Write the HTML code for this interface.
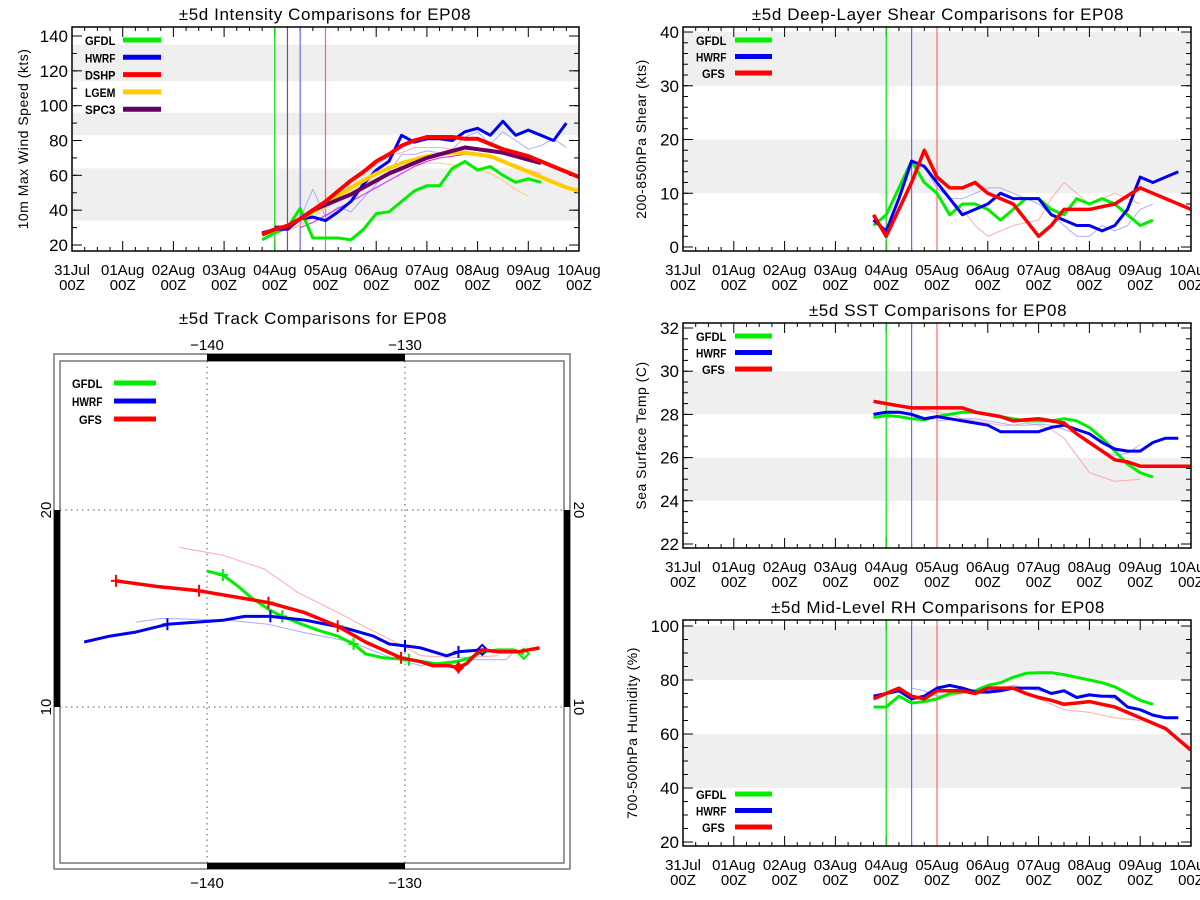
<!DOCTYPE html>
<html><head><meta charset="utf-8"><style>
html,body{margin:0;padding:0;background:#fff;}
svg{display:block;font-family:"Liberation Sans",sans-serif;}
</style></head><body>
<svg id="s" width="1200" height="900" viewBox="0 0 1200 900" xmlns="http://www.w3.org/2000/svg"></svg>
<script>
// ---------- DATA ----------
const dayLabels = ["31Jul","01Aug","02Aug","03Aug","04Aug","05Aug","06Aug","07Aug","08Aug","09Aug","10Aug"];
const intGFDL = [23,27,30,41,24,24,24,23,29,38,39,45,51,54,54,64,68,63,65,60,56,58,56];
const intHWRF = [27,29,29,35,36,34,39,45,55,63,68,83,79,81,81,80,85,87,83,91,83,86,83,80,90];
const intDSHP = [26,29,31,35,40,45,51,57,62,68,72,77,80,82,82,82,81,81,78,75,73,71,68,65,62,59];
const intLGEM = [26,29,31,35,39,43,48,53,57,61,64,67,69,71,72,73,73,72,71,68,65,62,59,56,53,51];
const intSPC3 = [30,30,35,40,43,46,49,53,57,61,64,67,70,72,74,76,75,74,73,71,69,67];
const intHWRFold = [30,35,52,36,42,39,47,55,62,72,72,74,73,75,82,85,78,85,80,75,77,81,76];
const intDSHPold = [28,32,38,44,50,56,61,66,71,73,76,76,76,75,74,72,70,68,66,63,61];
const intLGEMold = [28,31,36,41,46,51,55,58,61,64,66,67,67,66,66,64,61,57,52,48];
const intSPC3old = [30,33,37,41,45,49,53,57,61,65,68,70,71,72,72,70,68,66,62];
const shrGFDL = [4,6,11,16,12,10,6,8,8,7,5,7,9,9,7,6,9,8,9,8,6,4,5];
const shrHWRF = [5,3,9,16,15,12,9,6,7,8,10,9,9,9,6,5,4,4,3,4,7,13,12,13,14];
const shrGFS  = [6,2,7,12,18,13,11,11,12,10,9,8,5,2,4,7,7,7,7.5,8,9.5,11,10,9,8,7];
const shrGFSold = [15,12,9,7,4,2,3,4,4.5,5,9,12,10,8,9,10,9,8];
const shrHWRFold = [15,11,9,9,10,11,11,10,9,8,6,4,2,2,4,3,4,7,8];
const sstGFDL = [27.85,27.95,27.9,27.8,27.75,27.9,28.0,28.1,28.1,28.0,27.9,27.8,27.7,27.7,27.7,27.8,27.7,27.4,26.9,26.3,25.7,25.3,25.1];
const sstHWRF = [28.0,28.1,28.1,28.0,27.8,27.9,27.8,27.7,27.6,27.5,27.2,27.2,27.2,27.2,27.4,27.5,27.3,27.1,26.7,26.4,26.3,26.3,26.7,26.9,26.9];
const sstGFS  = [28.6,28.5,28.4,28.3,28.3,28.3,28.3,28.3,28.1,28.0,27.9,27.7,27.75,27.8,27.7,27.6,27.1,26.7,26.3,25.9,25.8,25.6,25.6,25.6,25.6,25.6];
const sstGFSold = [28.3,28.2,28.1,28.0,27.8,27.7,27.6,27.5,27.5,27.6,27.5,27.3,26.9,26.1,25.3,25.1,24.9,24.95,25.0];
const sstHWRFold = [27.7,27.75,27.8,27.8,27.7,27.6,27.5,27.5,27.55,27.5,27.3,27.1,26.7,26.3,26.1,26.2,26.6];
const rhGFDL = [70,70,74,71.5,72,73,75,75.5,76,78,79,81,82.5,82.7,82.7,82,81,80,79,77.5,75,72.5,71];
const rhHWRF = [74,75,76,73,74,77,78,77,75.5,75.5,76,77,77,77,75,76,73.5,74.5,74,74,70,69,67,66,66];
const rhGFS  = [73,75,77,74,73,76,76,76,75,77,77,77,75,73.5,72.5,71,71.5,72,71,70,68,66,64,62,58,54];
const rhGFSold = [76,74,74,75,75.5,76,76,76.5,75,73,71,69,68.5,68,67,66,65.5,65];
const rhHWRFold = [77,76,74,75,76,76.5,76,77,78,77,76,75,76.5,74,75,74,73,70.5];
const trkGFSlon = [-123.2,-124.3,-125.3,-126.1,-126.4,-126.7,-126.9,-127.3,-127.8,-128.6,-129.2,-130.2,-131.1,-132.0,-133.4,-135.1,-136.9,-140.4,-142.4,-144.6];
const trkGFSlat = [13.0,12.8,12.8,12.9,12.7,12.4,12.2,12.0,12.1,12.1,12.3,12.5,12.9,13.3,14.1,14.8,15.3,15.9,16.1,16.4];
const trkGFDLlon = [-124.0,-124.5,-125.3,-126.1,-126.7,-127.4,-128.4,-129.8,-131.1,-132.0,-132.6,-133.4,-134.4,-135.2,-136.2,-136.8,-137.7,-138.4,-139.2,-140.0];
const trkGFDLlat = [12.7,12.9,12.9,12.8,12.5,12.3,12.2,12.4,12.5,12.7,13.2,13.6,13.9,14.2,14.6,14.9,15.5,16.1,16.7,16.9];
const trkHWRFlon = [-126.1,-127.3,-127.9,-129.2,-130.0,-130.8,-131.6,-133.0,-135.0,-136.8,-138.1,-139.2,-142.0,-143.6,-144.9,-146.2];
const trkHWRFlat = [12.9,12.8,12.6,13.0,13.1,13.2,13.6,14.0,14.4,14.6,14.6,14.4,14.2,13.8,13.6,13.3];
const trkGFSoldLon = [-125.3,-127.2,-129.2,-130.1,-131.9,-133.4,-135.4,-137.1,-139.2,-141.4];
const trkGFSoldLat = [12.6,12.5,12.6,13.1,14.0,14.8,15.8,17.0,17.7,18.1];
const trkHWRFoldLon = [-124.5,-124.9,-127.2,-129.2,-130.7,-132.7,-135.2,-136.9,-138.9,-142.3,-143.6];
const trkHWRFoldLat = [12.8,12.4,12.4,12.1,12.5,13.3,13.8,14.2,14.4,14.5,14.3];

// ---------- HELPERS ----------
const S = document.getElementById('s');
const NS = "http://www.w3.org/2000/svg";
function mk(tag, attrs, parent){
  const e = document.createElementNS(NS, tag);
  for (const k in attrs) e.setAttribute(k, attrs[k]);
  (parent||S).appendChild(e);
  return e;
}
function txt(str, attrs, parent){
  const e = mk('text', attrs, parent);
  e.textContent = str;
  return e;
}

function panel(cfg){
  const g = mk('g', {});
  
  
  const X = d => cfg.x0 + (cfg.x1 - cfg.x0) * d / 10;
  const Y = v => cfg.ya + (v - cfg.va) * (cfg.yb - cfg.ya) / (cfg.vb - cfg.va);
  cfg.bands.forEach(b => {
    const r = mk('rect', {x:cfg.x0, y:Y(b[1]), width:cfg.x1-cfg.x0, height:Y(b[0])-Y(b[1]), fill:'#efefef'}, g);
    
    
  });
  const t = txt(cfg.title, {x:cfg.tx, y:cfg.ty, 'text-anchor':'middle', 'font-size':17, fill:'#000', 'letter-spacing':'0.6'}, g);
  
  
  const yc = (cfg.y0 + cfg.y1)/2;
  const yt = txt(cfg.ytitle, {x:cfg.ytx, y:yc, 'text-anchor':'middle', 'font-size':14, fill:'#000', transform:`rotate(-90 ${cfg.ytx} ${yc})`, 'letter-spacing':'0.5'}, g);
  
  
  cfg.yticks.forEach(v => {
    const y = Y(v);
    mk('line', {x1:cfg.x0, x2:cfg.x0+10, y1:y, y2:y, stroke:'#000'}, g);
    mk('line', {x1:cfg.x1, x2:cfg.x1-10, y1:y, y2:y, stroke:'#000'}, g);
    const l = txt(String(v), {x:cfg.x0-4, y:y+6, 'text-anchor':'end', 'font-size':17, fill:'#000'}, g);
    
    
  });
  for (let v = cfg.yticks[0]; v <= cfg.yticks[cfg.yticks.length-1]; v += cfg.yminor){
    const y = Y(v);
    mk('line', {x1:cfg.x0, x2:cfg.x0+5, y1:y, y2:y, stroke:'#000'}, g);
    mk('line', {x1:cfg.x1, x2:cfg.x1-5, y1:y, y2:y, stroke:'#000'}, g);
  }
  for (let q = 0; q <= 40; q++){
    const x = X(q/4);
    const len = q % 4 === 0 ? 10 : 4;
    mk('line', {x1:x, x2:x, y1:cfg.y1, y2:cfg.y1-len, stroke:'#000'}, g);
    mk('line', {x1:x, x2:x, y1:cfg.y0, y2:cfg.y0+len, stroke:'#000'}, g);
  }
  dayLabels.forEach((lab, i) => {
    const x = X(i);
    const a = txt(lab, {x:x, y:cfg.y1+24, 'text-anchor':'middle', 'font-size':15, fill:'#000'}, g);
    
    
    const b = txt('00Z', {x:x, y:cfg.y1+39, 'text-anchor':'middle', 'font-size':15, fill:'#000'}, g);
    
    
  });
  cfg.vlines.forEach(v => {
    const l = mk('line', {x1:X(v[0]), x2:X(v[0]), y1:cfg.y0, y2:cfg.y1, stroke:v[1], 'stroke-width':1.2}, g);
    
    
  });
  const clip = 'clip' + cfg.name;
  const cp = mk('clipPath', {id:clip}, g);
  mk('rect', {x:cfg.x0, y:cfg.y0, width:cfg.x1-cfg.x0, height:cfg.y1-cfg.y0}, cp);
  cfg.series.forEach(s => {
    const pts = s.data.map((v, i) => X(s.start + i*0.25).toFixed(1) + ',' + Y(v).toFixed(1)).join(' ');
    const p = mk('polyline', {points:pts, fill:'none', stroke:s.color, 'stroke-width':s.w, opacity:s.op||1, 'stroke-linejoin':'round', 'clip-path':`url(#${clip})`}, g);
    
    
  });
  const f = mk('rect', {x:cfg.x0, y:cfg.y0, width:cfg.x1-cfg.x0, height:cfg.y1-cfg.y0, fill:'none', stroke:'#000', 'stroke-width':1.5}, g);
  
  
  cfg.legend.forEach((e, i) => {
    const y = cfg.ly + i*cfg.lstep;
    const w = e[0].length * 7.6;
    const lx = e[0].length === 3 ? cfg.lx + 6 : cfg.lx;
    const lt = txt(e[0], {x:lx, y:y+5, 'font-size':12, 'font-weight':'bold', fill:'#000', textLength:w, lengthAdjust:'spacingAndGlyphs'}, g);
    
    
    const ll = mk('line', {x1:cfg.lx1, x2:cfg.lx2, y1:y, y2:y, stroke:e[1], 'stroke-width':5}, g);
    
    
  });
}

const G='#00ee00', B='#0000ee', R='#ff0000', O='#ffcc00', P='#660066';

panel({name:'intensity-chart', x0:72, x1:579, y0:27, y1:251, ya:36, va:140, yb:245, vb:20,
  bands:[[34,64],[83,96],[114,135]], title:'±5d Intensity Comparisons for EP08', tx:325, ty:20,
  ytitle:'10m Max Wind Speed (kts)', ytx:28, yticks:[20,40,60,80,100,120,140], yminor:10,
  vlines:[[4,'#00dd00'],[4.25,'#884488'],[4.5,'#6666ff'],[5,'#ff6666']],
  series:[
    {name:'hwrf-previous-line', data:intHWRFold, start:4.25, color:'#9999ff', w:1, op:0.8},
    {name:'dshp-previous-line', data:intDSHPold, start:4.25, color:'#ff9999', w:1, op:0.8},
    {name:'lgem-previous-line', data:intLGEMold, start:4.25, color:'#ffcc66', w:1, op:0.9},
    {name:'spc3-previous-line', data:intSPC3old, start:4.5, color:'#ee00ee', w:1, op:0.9},
    {name:'gfdl-line', data:intGFDL, start:3.75, color:G, w:3},
    {name:'hwrf-line', data:intHWRF, start:3.75, color:B, w:3},
    {name:'lgem-line', data:intLGEM, start:3.75, color:O, w:4},
    {name:'spc3-line', data:intSPC3, start:4, color:P, w:4},
    {name:'dshp-line', data:intDSHP, start:3.75, color:R, w:4}
  ],
  legend:[['GFDL',G],['HWRF',B],['DSHP',R],['LGEM',O],['SPC3',P]], lx:85, lx1:123, lx2:161, ly:40, lstep:17.3});

panel({name:'shear-chart', x0:683, x1:1191, y0:27, y1:251, ya:32, va:40, yb:247, vb:0,
  bands:[[10,20],[30,40]], title:'±5d Deep-Layer Shear Comparisons for EP08', tx:938, ty:20,
  ytitle:'200-850hPa Shear (kts)', ytx:646, yticks:[0,10,20,30,40], yminor:2,
  vlines:[[4,'#00dd00'],[4.5,'#6666ff'],[5,'#ff6666']],
  series:[
    {name:'gfs-previous-line', data:shrGFSold, start:4.75, color:'#ff9999', w:1, op:0.8},
    {name:'hwrf-previous-line', data:shrHWRFold, start:4.75, color:'#9999ff', w:1, op:0.8},
    {name:'gfdl-line', data:shrGFDL, start:3.75, color:G, w:3},
    {name:'hwrf-line', data:shrHWRF, start:3.75, color:B, w:3},
    {name:'gfs-line', data:shrGFS, start:3.75, color:R, w:3.5}
  ],
  legend:[['GFDL',G],['HWRF',B],['GFS',R]], lx:696, lx1:735, lx2:772, ly:40, lstep:16.5});

panel({name:'sst-chart', x0:683, x1:1191, y0:323, y1:548, ya:328, va:32, yb:544, vb:22,
  bands:[[24,26],[28,30]], title:'±5d SST Comparisons for EP08', tx:938, ty:316,
  ytitle:'Sea Surface Temp (C)', ytx:646, yticks:[22,24,26,28,30,32], yminor:0.5,
  vlines:[[4,'#00dd00'],[4.5,'#6666ff'],[5,'#ff6666']],
  series:[
    {name:'gfs-previous-line', data:sstGFSold, start:4.5, color:'#ff9999', w:1, op:0.8},
    {name:'hwrf-previous-line', data:sstHWRFold, start:5, color:'#9999ff', w:1, op:0.8},
    {name:'gfdl-line', data:sstGFDL, start:3.75, color:G, w:3},
    {name:'hwrf-line', data:sstHWRF, start:3.75, color:B, w:3},
    {name:'gfs-line', data:sstGFS, start:3.75, color:R, w:3.5}
  ],
  legend:[['GFDL',G],['HWRF',B],['GFS',R]], lx:696, lx1:735, lx2:772, ly:336, lstep:16.5});

panel({name:'rh-chart', x0:683, x1:1191, y0:620, y1:846, ya:626, va:100, yb:842, vb:20,
  bands:[[40,60],[80,100]], title:'±5d Mid-Level RH Comparisons for EP08', tx:938, ty:613,
  ytitle:'700-500hPa Humidity (%)', ytx:637, yticks:[20,40,60,80,100], yminor:5,
  vlines:[[4,'#00dd00'],[4.5,'#6666ff'],[5,'#ff6666']],
  series:[
    {name:'gfs-previous-line', data:rhGFSold, start:4.75, color:'#ff9999', w:1, op:0.8},
    {name:'hwrf-previous-line', data:rhHWRFold, start:4.5, color:'#9999ff', w:1, op:0.8},
    {name:'gfdl-line', data:rhGFDL, start:3.75, color:G, w:3},
    {name:'hwrf-line', data:rhHWRF, start:3.75, color:B, w:3},
    {name:'gfs-line', data:rhGFS, start:3.75, color:R, w:3.5}
  ],
  legend:[['GFDL',G],['HWRF',B],['GFS',R]], lx:696, lx1:735, lx2:772, ly:794, lstep:16.5});

// ---------- TRACK MAP ----------
(function(){
  const g = mk('g', {});
  
  
  const LX = lon => 207 + (lon + 140) * 19.8;
  const LY = lat => 510 - (lat - 20) * 19.7;
  const t = txt('±5d Track Comparisons for EP08', {x:313, y:324, 'text-anchor':'middle', 'font-size':17, fill:'#000', 'letter-spacing':'0.6'}, g);
  
  
  const o = mk('rect', {x:54, y:354, width:516, height:515, fill:'none', stroke:'#777', 'stroke-width':1.5}, g);
  
  
  const inr = mk('rect', {x:60, y:361, width:504, height:502, fill:'none', stroke:'#777', 'stroke-width':1.5}, g);
  
  
  [[LX(-140),354,LX(-130)-LX(-140),7],[LX(-140),863,LX(-130)-LX(-140),6],[54,LY(20),6,LY(10)-LY(20)],[564,LY(20),6,LY(10)-LY(20)]].forEach(b => {
    const r = mk('rect', {x:b[0], y:b[1], width:b[2], height:b[3], fill:'#000'}, g);
    
    
  });
  [-140,-130].forEach(lon => {
    const gl = mk('line', {x1:LX(lon), x2:LX(lon), y1:361, y2:863, stroke:'#555', 'stroke-dasharray':'1.5,4'}, g);
    
    
    const a = txt(String(lon).replace('-','−'), {x:LX(lon), y:350, 'text-anchor':'middle', 'font-size':15, fill:'#000'}, g);
    
    
    const b = txt(String(lon).replace('-','−'), {x:LX(lon), y:888, 'text-anchor':'middle', 'font-size':15, fill:'#000'}, g);
    
    
  });
  [10,20].forEach(lat => {
    const y = LY(lat);
    const gl = mk('line', {x1:60, x2:564, y1:y, y2:y, stroke:'#555', 'stroke-dasharray':'1.5,4'}, g);
    
    
    const a = txt(String(lat), {x:46, y:y, 'text-anchor':'middle', 'font-size':15, fill:'#000', transform:`rotate(-90 46 ${y})`, dy:5}, g);
    
    
    const b = txt(String(lat), {x:579, y:y, 'text-anchor':'middle', 'font-size':15, fill:'#000', transform:`rotate(90 579 ${y})`, dy:5}, g);
    
    
  });
  function track(lons, lats, color, w, name, crosses, diamond){
    const pts = lons.map((lo, i) => LX(lo).toFixed(1) + ',' + LY(lats[i]).toFixed(1)).join(' ');
    const p = mk('polyline', {points:pts, fill:'none', stroke:color, 'stroke-width':w, 'stroke-linejoin':'round'}, g);
    
    
    (crosses||[]).forEach(i => {
      const x = LX(lons[i]), y = LY(lats[i]);
      const c = mk('path', {d:`M${x-5},${y}H${x+5}M${x},${y-6}V${y+6}`, stroke:color, 'stroke-width':2}, g);
      
      
    });
    if (diamond){
      const x = LX(lons[0]), y = LY(lats[0]);
      const d = mk('path', {d:`M${x},${y-5}L${x+5},${y}L${x},${y+5}L${x-5},${y}Z`, fill:'none', stroke:color, 'stroke-width':2}, g);
      
      
    }
  }
  track(trkGFSoldLon, trkGFSoldLat, '#ffaaaa', 1, 'gfs-previous-track');
  track(trkHWRFoldLon, trkHWRFoldLat, '#aaaaff', 1, 'hwrf-previous-track');
  track(trkGFDLlon, trkGFDLlat, G, 3, 'gfdl-track', [7,10,14,18], true);
  track(trkHWRFlon, trkHWRFlat, B, 3, 'hwrf-track', [1,4,9,12], true);
  track(trkGFSlon, trkGFSlat, R, 3.5, 'gfs-track', [7,11,14,16,17,19], false);
  const gx = LX(trkGFSlon[7]), gy = LY(trkGFSlat[7]);
  const gd = mk('path', {d:`M${gx},${gy-5}L${gx+5},${gy}L${gx},${gy+5}L${gx-5},${gy}Z`, fill:R, stroke:R}, g);
  
  
  [['GFDL',G],['HWRF',B],['GFS',R]].forEach((e, i) => {
    const y = 383 + i*18;
    const lt = txt(e[0], {x:e[0]==='GFS'?79:72, y:y+5, 'font-size':12, 'font-weight':'bold', fill:'#000', textLength:e[0].length*7.6, lengthAdjust:'spacingAndGlyphs'}, g);
    
    
    const ll = mk('line', {x1:114, x2:156, y1:y, y2:y, stroke:e[1], 'stroke-width':5}, g);
    
    
  });
})();
</script>
</body></html>
